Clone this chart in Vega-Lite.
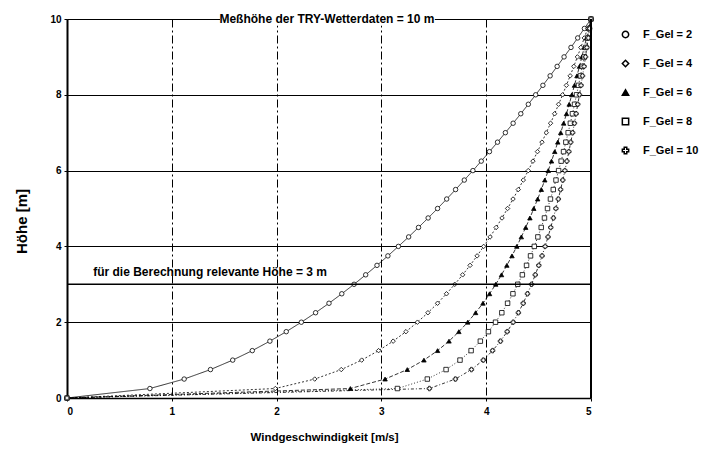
{
  "$schema": "https://vega.github.io/schema/vega-lite/v6.json",
  "width": 524,
  "height": 379,
  "autosize": {"type": "none"},
  "padding": {"left": 67, "top": 19, "right": 112, "bottom": 52},
  "background": "white",
  "config": {"view": {"stroke": null}, "font": "Liberation Sans"},
  "resolve": {"legend": {"strokeDash": "independent"}},
  "datasets": {
    "profile": [
      {"h": 0, "F_Gel = 2": 0, "F_Gel = 4": 0, "F_Gel = 6": 0, "F_Gel = 8": 0, "F_Gel = 10": 0},
      {"h": 0.25, "F_Gel = 2": 0.791, "F_Gel = 4": 1.988, "F_Gel = 6": 2.704, "F_Gel = 8": 3.153, "F_Gel = 10": 3.458},
      {"h": 0.5, "F_Gel = 2": 1.118, "F_Gel = 4": 2.364, "F_Gel = 6": 3.035, "F_Gel = 8": 3.438, "F_Gel = 10": 3.706},
      {"h": 0.75, "F_Gel = 2": 1.369, "F_Gel = 4": 2.617, "F_Gel = 6": 3.247, "F_Gel = 8": 3.617, "F_Gel = 10": 3.859},
      {"h": 1, "F_Gel = 2": 1.581, "F_Gel = 4": 2.812, "F_Gel = 6": 3.406, "F_Gel = 8": 3.75, "F_Gel = 10": 3.972},
      {"h": 1.25, "F_Gel = 2": 1.768, "F_Gel = 4": 2.973, "F_Gel = 6": 3.536, "F_Gel = 8": 3.856, "F_Gel = 10": 4.061},
      {"h": 1.5, "F_Gel = 2": 1.936, "F_Gel = 4": 3.112, "F_Gel = 6": 3.645, "F_Gel = 8": 3.944, "F_Gel = 10": 4.136},
      {"h": 1.75, "F_Gel = 2": 2.092, "F_Gel = 4": 3.234, "F_Gel = 6": 3.739, "F_Gel = 8": 4.021, "F_Gel = 10": 4.2},
      {"h": 2, "F_Gel = 2": 2.236, "F_Gel = 4": 3.344, "F_Gel = 6": 3.824, "F_Gel = 8": 4.089, "F_Gel = 10": 4.257},
      {"h": 2.25, "F_Gel = 2": 2.372, "F_Gel = 4": 3.444, "F_Gel = 6": 3.899, "F_Gel = 8": 4.149, "F_Gel = 10": 4.307},
      {"h": 2.5, "F_Gel = 2": 2.5, "F_Gel = 4": 3.536, "F_Gel = 6": 3.969, "F_Gel = 8": 4.204, "F_Gel = 10": 4.353},
      {"h": 2.75, "F_Gel = 2": 2.622, "F_Gel = 4": 3.621, "F_Gel = 6": 4.032, "F_Gel = 8": 4.255, "F_Gel = 10": 4.394},
      {"h": 3, "F_Gel = 2": 2.739, "F_Gel = 4": 3.7, "F_Gel = 6": 4.091, "F_Gel = 8": 4.301, "F_Gel = 10": 4.433},
      {"h": 3.25, "F_Gel = 2": 2.85, "F_Gel = 4": 3.775, "F_Gel = 6": 4.146, "F_Gel = 8": 4.345, "F_Gel = 10": 4.468},
      {"h": 3.5, "F_Gel = 2": 2.958, "F_Gel = 4": 3.846, "F_Gel = 6": 4.197, "F_Gel = 8": 4.385, "F_Gel = 10": 4.502},
      {"h": 3.75, "F_Gel = 2": 3.062, "F_Gel = 4": 3.913, "F_Gel = 6": 4.246, "F_Gel = 8": 4.423, "F_Gel = 10": 4.533},
      {"h": 4, "F_Gel = 2": 3.162, "F_Gel = 4": 3.976, "F_Gel = 6": 4.292, "F_Gel = 8": 4.459, "F_Gel = 10": 4.562},
      {"h": 4.25, "F_Gel = 2": 3.26, "F_Gel = 4": 4.037, "F_Gel = 6": 4.335, "F_Gel = 8": 4.493, "F_Gel = 10": 4.59},
      {"h": 4.5, "F_Gel = 2": 3.354, "F_Gel = 4": 4.095, "F_Gel = 6": 4.377, "F_Gel = 8": 4.525, "F_Gel = 10": 4.616},
      {"h": 4.75, "F_Gel = 2": 3.446, "F_Gel = 4": 4.151, "F_Gel = 6": 4.417, "F_Gel = 8": 4.556, "F_Gel = 10": 4.641},
      {"h": 5, "F_Gel = 2": 3.536, "F_Gel = 4": 4.204, "F_Gel = 6": 4.454, "F_Gel = 8": 4.585, "F_Gel = 10": 4.665},
      {"h": 5.25, "F_Gel = 2": 3.623, "F_Gel = 4": 4.256, "F_Gel = 6": 4.491, "F_Gel = 8": 4.613, "F_Gel = 10": 4.688},
      {"h": 5.5, "F_Gel = 2": 3.708, "F_Gel = 4": 4.306, "F_Gel = 6": 4.526, "F_Gel = 8": 4.64, "F_Gel = 10": 4.71},
      {"h": 5.75, "F_Gel = 2": 3.791, "F_Gel = 4": 4.354, "F_Gel = 6": 4.559, "F_Gel = 8": 4.666, "F_Gel = 10": 4.731},
      {"h": 6, "F_Gel = 2": 3.873, "F_Gel = 4": 4.401, "F_Gel = 6": 4.592, "F_Gel = 8": 4.691, "F_Gel = 10": 4.751},
      {"h": 6.25, "F_Gel = 2": 3.953, "F_Gel = 4": 4.446, "F_Gel = 6": 4.623, "F_Gel = 8": 4.715, "F_Gel = 10": 4.77},
      {"h": 6.5, "F_Gel = 2": 4.031, "F_Gel = 4": 4.489, "F_Gel = 6": 4.654, "F_Gel = 8": 4.738, "F_Gel = 10": 4.789},
      {"h": 6.75, "F_Gel = 2": 4.108, "F_Gel = 4": 4.532, "F_Gel = 6": 4.683, "F_Gel = 8": 4.76, "F_Gel = 10": 4.807},
      {"h": 7, "F_Gel = 2": 4.183, "F_Gel = 4": 4.573, "F_Gel = 6": 4.711, "F_Gel = 8": 4.782, "F_Gel = 10": 4.825},
      {"h": 7.25, "F_Gel = 2": 4.257, "F_Gel = 4": 4.614, "F_Gel = 6": 4.739, "F_Gel = 8": 4.803, "F_Gel = 10": 4.842},
      {"h": 7.5, "F_Gel = 2": 4.33, "F_Gel = 4": 4.653, "F_Gel = 6": 4.766, "F_Gel = 8": 4.823, "F_Gel = 10": 4.858},
      {"h": 7.75, "F_Gel = 2": 4.402, "F_Gel = 4": 4.691, "F_Gel = 6": 4.792, "F_Gel = 8": 4.843, "F_Gel = 10": 4.874},
      {"h": 8, "F_Gel = 2": 4.472, "F_Gel = 4": 4.729, "F_Gel = 6": 4.817, "F_Gel = 8": 4.862, "F_Gel = 10": 4.89},
      {"h": 8.25, "F_Gel = 2": 4.541, "F_Gel = 4": 4.765, "F_Gel = 6": 4.842, "F_Gel = 8": 4.881, "F_Gel = 10": 4.905},
      {"h": 8.5, "F_Gel = 2": 4.61, "F_Gel = 4": 4.801, "F_Gel = 6": 4.866, "F_Gel = 8": 4.899, "F_Gel = 10": 4.919},
      {"h": 8.75, "F_Gel = 2": 4.677, "F_Gel = 4": 4.836, "F_Gel = 6": 4.89, "F_Gel = 8": 4.917, "F_Gel = 10": 4.934},
      {"h": 9, "F_Gel = 2": 4.743, "F_Gel = 4": 4.87, "F_Gel = 6": 4.913, "F_Gel = 8": 4.935, "F_Gel = 10": 4.948},
      {"h": 9.25, "F_Gel = 2": 4.809, "F_Gel = 4": 4.903, "F_Gel = 6": 4.935, "F_Gel = 8": 4.951, "F_Gel = 10": 4.961},
      {"h": 9.5, "F_Gel = 2": 4.873, "F_Gel = 4": 4.936, "F_Gel = 6": 4.957, "F_Gel = 8": 4.968, "F_Gel = 10": 4.974},
      {"h": 9.75, "F_Gel = 2": 4.937, "F_Gel = 4": 4.968, "F_Gel = 6": 4.979, "F_Gel = 8": 4.984, "F_Gel = 10": 4.987},
      {"h": 10, "F_Gel = 2": 5, "F_Gel = 4": 5, "F_Gel = 6": 5, "F_Gel = 8": 5, "F_Gel = 10": 5}
    ]
  },
  "layer": [
    {
      "data": {"name": "profile"},
      "transform": [{"fold": ["F_Gel = 2", "F_Gel = 4", "F_Gel = 6", "F_Gel = 8", "F_Gel = 10"], "as": ["F", "v"]}],
      "mark": {"type": "line", "stroke": "black", "strokeWidth": 0.8},
      "encoding": {
        "x": {"field": "v", "type": "quantitative", "scale": {"domain": [0, 5], "nice": false},
          "axis": {"title": "Windgeschwindigkeit [m/s]", "values": [0, 1, 2, 3, 4, 5], "format": "d",
            "grid": true, "gridColor": "black", "gridDash": [8, 3, 2, 3], "gridWidth": 1,
            "domainColor": "black", "domainWidth": 1.5, "tickColor": "black", "tickSize": 3,
            "labelFontSize": 10, "labelFontWeight": "bold", "labelColor": "black", "labelPadding": 5,
            "titleFontSize": 11.5, "titleFontWeight": "bold", "titleColor": "black",
            "titleX": 257, "titleY": 39, "titleAlign": "center", "titleBaseline": "middle"}},
        "y": {"field": "h", "type": "quantitative", "scale": {"domain": [0, 10], "nice": false},
          "axis": {"title": "Höhe [m]", "values": [0, 2, 4, 6, 8, 10], "format": "d",
            "grid": true, "gridColor": "black", "gridWidth": 1,
            "domainColor": "black", "domainWidth": 2, "tickColor": "black", "tickSize": 3,
            "labelFontSize": 10, "labelFontWeight": "bold", "labelColor": "black", "labelPadding": 3,
            "titleFontSize": 15, "titleFontWeight": "bold", "titleColor": "black", "titlePadding": 20, "titleY": 202}},
        "detail": {"field": "F"},
        "strokeDash": {"field": "F", "type": "nominal",
          "scale": {"domain": ["F_Gel = 2", "F_Gel = 4", "F_Gel = 6", "F_Gel = 8", "F_Gel = 10"],
            "range": [[1, 0], [2, 2], [4, 2], [1, 2], [3, 2, 1, 2]]}, "legend": null}
      }
    },
    {
      "data": {"name": "profile"},
      "transform": [{"fold": ["F_Gel = 2", "F_Gel = 4", "F_Gel = 6", "F_Gel = 8", "F_Gel = 10"], "as": ["F", "v"]}],
      "mark": {"type": "point", "filled": true, "stroke": "black", "strokeWidth": 0.8, "size": 20, "opacity": 1},
      "encoding": {
        "x": {"field": "v", "type": "quantitative"},
        "y": {"field": "h", "type": "quantitative"},
        "shape": {"field": "F", "type": "nominal",
          "scale": {"domain": ["F_Gel = 2", "F_Gel = 4", "F_Gel = 6", "F_Gel = 8", "F_Gel = 10"],
            "range": ["circle", "diamond", "triangle-up", "square", "cross"]},
          "legend": {"title": null, "orient": "none", "legendX": 553, "legendY": 10,
            "labelFont": "Liberation Sans", "labelFontSize": 11, "labelFontWeight": "bold", "labelColor": "black",
            "labelOffset": 12, "rowPadding": 16, "symbolSize": 40,
            "encode": {"symbols": {"update": {"stroke": {"value": "black"}, "strokeWidth": {"value": 1}, "opacity": {"value": 1}}}}}},
        "fill": {"field": "F", "type": "nominal",
          "scale": {"domain": ["F_Gel = 2", "F_Gel = 4", "F_Gel = 6", "F_Gel = 8", "F_Gel = 10"],
            "range": ["white", "white", "black", "white", "white"]},
          "legend": {"title": null, "orient": "none", "legendX": 553, "legendY": 10,
            "labelFont": "Liberation Sans", "labelFontSize": 11, "labelFontWeight": "bold", "labelColor": "black",
            "labelOffset": 12, "rowPadding": 16, "symbolSize": 40,
            "encode": {"symbols": {"update": {"stroke": {"value": "black"}, "strokeWidth": {"value": 1}, "opacity": {"value": 1}}}}}}
      }
    },
    {
      "data": {"values": [{"y": 3}]},
      "mark": {"type": "rule", "stroke": "black", "strokeWidth": 1.5},
      "encoding": {"y": {"field": "y", "type": "quantitative"}}
    },
    {
      "data": {"values": [{"x": 5}]},
      "mark": {"type": "rule", "stroke": "black", "strokeWidth": 2},
      "encoding": {"x": {"field": "x", "type": "quantitative"}}
    },
    {
      "data": {"values": [{"x": 1.46, "x2": 3.51, "y": 9.82, "y2": 10.18}]},
      "mark": {"type": "rect", "fill": "white"},
      "encoding": {
        "x": {"field": "x", "type": "quantitative"}, "x2": {"field": "x2"},
        "y": {"field": "y", "type": "quantitative"}, "y2": {"field": "y2"}
      }
    },
    {
      "data": {"values": [{"x": 2.48, "y": 10, "t": "Meßhöhe der TRY-Wetterdaten = 10 m"}]},
      "mark": {"type": "text", "align": "center", "baseline": "middle", "fontSize": 12, "fontWeight": "bold", "color": "black"},
      "encoding": {"x": {"field": "x", "type": "quantitative"}, "y": {"field": "y", "type": "quantitative"}, "text": {"field": "t"}}
    },
    {
      "data": {"values": [{"x": 0.25, "y": 3.32, "t": "für die Berechnung relevante Höhe = 3 m"}]},
      "mark": {"type": "text", "align": "left", "baseline": "middle", "fontSize": 12, "fontWeight": "bold", "color": "black"},
      "encoding": {"x": {"field": "x", "type": "quantitative"}, "y": {"field": "y", "type": "quantitative"}, "text": {"field": "t"}}
    }
  ]
}
